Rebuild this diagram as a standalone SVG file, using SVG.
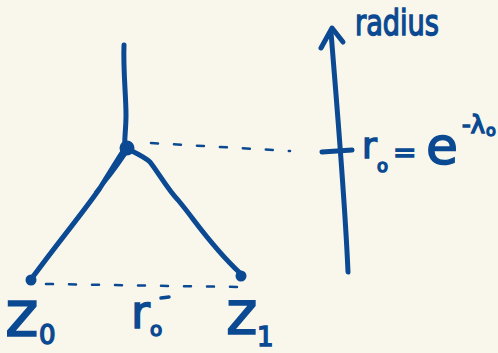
<svg xmlns="http://www.w3.org/2000/svg" width="498" height="353" viewBox="0 0 498 353">
<style>
.ink{fill:none;stroke:#0b4a92;stroke-linecap:round;stroke-linejoin:round}
.thick{stroke-width:5}
.dash{stroke-width:2.5;stroke-dasharray:7 16}
.dot{fill:#0b4a92}
.t{fill:#0b4a92;stroke:#0b4a92;stroke-width:1.5;font-family:"DejaVu Sans",sans-serif}
</style>
<rect width="498" height="353" fill="#f9f7eb"/>
<g id="connectors">
<path class="ink thick" d="M124,45 C123,70 126,95 126,115 C126,130 124,140 125,148"/>
<path class="ink thick" d="M125,148 C116,162 108,175 100,188 C85,210 60,240 32,278"/>
<path class="ink" stroke-width="3.5" d="M128,150 C120,162 112,175 96,192"/>
<path class="ink thick" d="M130,150 C140,155 146,158 150,162 C160,175 168,190 178,200 C195,220 210,245 240,273"/>
<path class="ink dash" d="M151,143 L290,151"/>
<path class="ink dash" d="M46,284 L238,287"/>
<path class="ink thick" d="M348,272 C345,200 338,120 331,32"/>
<path class="ink thick" d="M321,48 L332,28 L343,42"/>
<path class="ink thick" d="M322,152 L352,150"/>
</g>
<g id="junction"><circle class="dot" cx="127" cy="148" r="7.5"/></g>
<g id="node-z0"><circle class="dot" cx="31" cy="280" r="5.5"/>
<text class="t" x="5" y="336" font-size="64">z</text><text class="t" x="39" y="344" font-size="26">0</text></g>
<g id="node-z1"><circle class="dot" cx="241" cy="276" r="5.5"/>
<text class="t" x="226" y="334" font-size="60">z</text><text class="t" x="257" y="346" font-size="26">1</text></g>
<g id="label-r0bar"><text class="t" x="131" y="328" font-size="46">r</text><text class="t" x="150" y="336" font-size="20">o</text><path class="ink" stroke-width="3.5" d="M161,298 L169,297"/></g>
<g id="axis-label"><text class="t" x="355" y="35" font-size="36" textLength="84" lengthAdjust="spacingAndGlyphs">radius</text></g>
<g id="label-r0"><text class="t" x="362" y="158" font-size="36">r</text><text class="t" x="377" y="172" font-size="18">o</text>
<text class="t" x="393" y="162" font-size="28">=</text>
<text class="t" x="426" y="164" font-size="52">e</text>
<text class="t" x="462" y="133" font-size="24">-λ</text><text class="t" x="486" y="136" font-size="16">o</text></g>
</svg>
